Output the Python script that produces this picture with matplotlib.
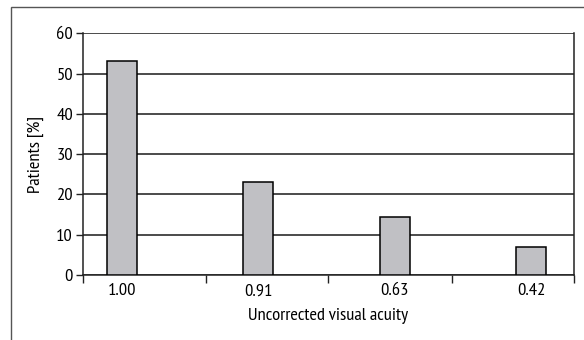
import matplotlib
matplotlib.use("Agg")
import matplotlib.pyplot as plt
from matplotlib.patches import Rectangle

# data
acuity = ["1.00", "0.91", "0.63", "0.42"]
patients = [53.2, 23.1, 14.5, 7.0]
y_ticks = [0, 10, 20, 30, 40, 50, 60]

plt.rcParams['font.family'] = ['PT Sans Narrow', 'DejaVu Sans']

W, H = 584, 340
fig = plt.figure(figsize=(W / 100, H / 100), dpi=100)

# plot area in pixels: left 82.7, right 574, top 33.3, bottom 275
ax = fig.add_axes([82.7 / W, 1 - 275 / H, (574 - 82.7) / W, (275 - 33.3) / H])

# outer frame (only left and top edges visible in the crop)
fig.patches.append(Rectangle((11 / W, -0.1), 1.2, (1 - 7 / H) + 0.1, transform=fig.transFigure,
                             fill=False, edgecolor='#555555', linewidth=1.0))

pos = list(range(len(acuity)))
ax.bar(pos, patients, width=0.22, color='#c0c0c4', edgecolor='black', linewidth=1.1, zorder=3)

ax.set_xlim(-0.286, 3.315)
ax.set_ylim(0, 60)
ax.set_yticks(y_ticks)
ax.yaxis.grid(True, color='#1a1a1a', linewidth=1.1, zorder=0)
ax.set_axisbelow(True)

fs = 13.3
ax.set_xticks(pos)
ax.set_xticklabels(acuity)
ax.tick_params(axis='x', length=0, pad=6, labelsize=fs)
ax.set_xticks([-0.286, 0.618, 1.515, 2.419, 3.315], minor=True)
ax.tick_params(axis='x', which='minor', length=6, width=1.0, color='#222222', direction='out')
ax.tick_params(axis='y', length=5, width=1.0, color='#222222', labelsize=fs, pad=2)

for s in ['left', 'bottom', 'right']:
    ax.spines[s].set_color('#222222')
    ax.spines[s].set_linewidth(1.1)
ax.spines['top'].set_visible(False)

ax.set_ylabel('Patients [%]', fontsize=fs, labelpad=9)
ax.set_xlabel('Uncorrected visual acuity', fontsize=fs, labelpad=6)

fig.savefig('out.png', dpi=100)
